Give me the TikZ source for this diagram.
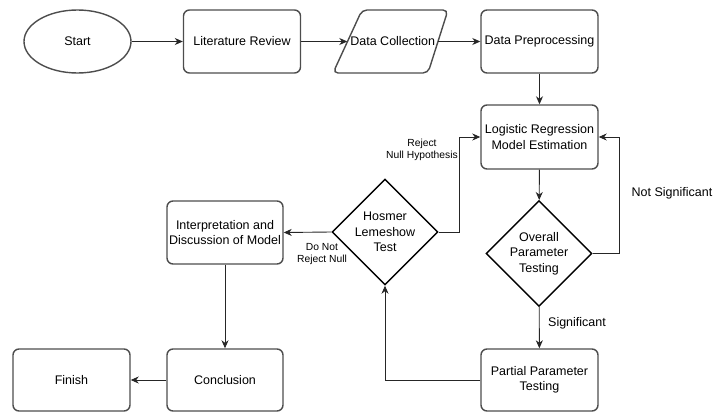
\documentclass[tikz,border=0pt]{standalone}
\usepackage{fontspec}
\setmainfont{Liberation Sans}
\usetikzlibrary{shapes.geometric,arrows.meta}
\definecolor{boxgray}{HTML}{4D4D4D}
\begin{document}
\begin{tikzpicture}[x=1pt,y=-1pt,
  mainfont/.style={font=\fontsize{12.5}{15.5}\selectfont},
  smallfont/.style={font=\fontsize{10.3}{12.5}\selectfont},
  box/.style={draw=boxgray, line width=1.4pt, rounded corners=6pt, minimum width=117pt, minimum height=63pt, align=center, inner sep=1pt, mainfont},
  dia/.style={diamond, draw=black, line width=1.4pt, aspect=1, minimum width=106pt, minimum height=106pt, inner sep=0pt, align=center, mainfont},
  conn/.style={draw=black!85, line width=0.9pt, -{Stealth[length=8pt,width=7pt,inset=2.5pt]}},
  lbl/.style={align=center, inner sep=0pt}
]
\useasboundingbox (0,0) rectangle (713,412);

% nodes
\node[ellipse, draw=boxgray, line width=1.4pt, minimum width=107pt, minimum height=63pt, mainfont] (start) at (77.5,41.5) {Start};
\node[box] (lit) at (242,41.5) {Literature Review};
\node[minimum width=90.5pt, minimum height=63pt, inner sep=0pt, mainfont] (dc) at (392.75,41.5) {Data Collection};
\draw[draw=boxgray, line width=1.4pt, rounded corners=5pt] (362,10) -- (448,10) -- (428,73) -- (333,73) -- cycle;
\node[box] (dp) at (539.5,41.5) {Data Preprocessing};
\node[box, minimum height=64pt] (lr) at (539.5,137) {Logistic Regression\\Model Estimation};
\node[dia] (ovr) at (539,253.5) {Overall\\Parameter\\Testing};
\node[box, minimum height=62pt] (pp) at (539.5,380) {Partial Parameter\\Testing};
\node[dia] (hl) at (385,232) {Hosmer\\Lemeshow\\Test};
\node[box, minimum width=116pt] (interp) at (225,232.5) {Interpretation and\\Discussion of Model};
\node[box, minimum width=116pt, minimum height=62pt] (conc) at (225,380) {Conclusion};
\node[box, minimum width=117pt, minimum height=62pt] (fin) at (71.5,380) {Finish};

% labels
\node[lbl, mainfont] (notsig) at (672,193) {Not Significant};
\node[lbl, mainfont] (sig) at (577,323) {Significant};
\node[lbl, smallfont] (rej) at (422,150) {Reject\\Null Hypothesis};
\node[lbl, smallfont] (dnr) at (322,254) {Do Not\\Reject Null};

% connectors
\draw[conn] (start) -- (lit);
\draw[conn] (lit) -- (dc);
\draw[conn] (dc) -- (dp);
\draw[conn] (dp) -- (lr);
\draw[conn] (lr) -- (ovr);
\draw[conn] (ovr.east) -- ++(27,0) |- (lr.east);
\draw[conn] (ovr) -- (pp);
\draw[conn] (pp.west) -| (hl.south);
\draw[conn] (hl.east) -- ++(21,0) |- (lr.west);
\draw[conn] (hl.west) -- (interp.east);
\draw[conn] (interp) -- (conc);
\draw[conn] (conc) -- (fin);
\end{tikzpicture}
\end{document}
